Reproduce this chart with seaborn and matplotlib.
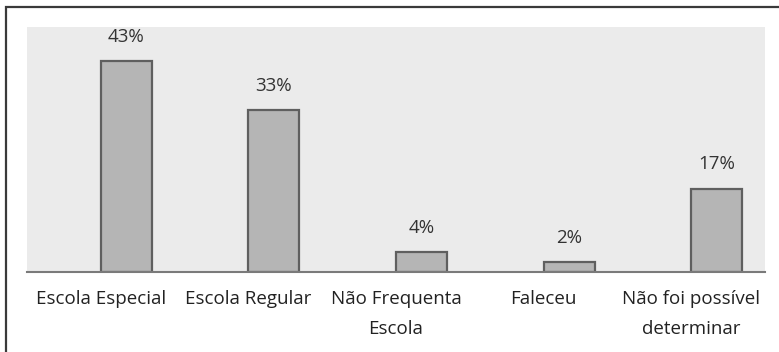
import matplotlib
matplotlib.use("Agg")
import matplotlib.pyplot as plt
import seaborn as sns
import numpy as np
import pandas as pd
from matplotlib.patches import Rectangle

categories = ["Escola Especial", "Escola Regular", "Não Frequenta\nEscola",
              "Faleceu", "Não foi possível\ndeterminar"]
values = [43, 33, 4, 2, 17]
value_labels = ["43%", "33%", "4%", "2%", "17%"]

BAR_WIDTH = 0.345
# bars sit in the right half of each category slot
positions = np.arange(len(categories)) + BAR_WIDTH / 2

df = pd.DataFrame({"pos": positions, "valor": values})

sns.set_style("white")
plt.rcParams["font.family"] = ["Open Sans", "DejaVu Sans"]

fig = plt.figure(figsize=(7.79, 3.52), dpi=100)
ax = fig.add_axes([27 / 779, 1 - 272 / 352, (765 - 27) / 779, (272 - 27) / 352])
ax.set_facecolor("#ebebeb")

sns.barplot(data=df, x="pos", y="valor", ax=ax, native_scale=True,
            color="#b5b5b5", edgecolor="#5f5f5f", linewidth=1.6,
            width=BAR_WIDTH, saturation=1)

for x, v, lab in zip(positions, values, value_labels):
    ax.text(x, v + 3.2, lab, ha="center", va="bottom", fontsize=13.5,
            color="#333333")

ax.set_ylim(0, 50)
ax.set_xlim(-0.5, len(categories) - 0.5)
ax.set_yticks([])
ax.set_xticks(np.arange(len(categories)))
ax.set_xticklabels(categories)
ax.set_xlabel("")
ax.set_ylabel("")
ax.tick_params(axis="x", length=0, pad=13, labelsize=13.5, colors="#222222")
for lab in ax.get_xticklabels():
    lab.set_linespacing(1.85)
    lab.set_va("top")

for side in ["top", "right", "left"]:
    ax.spines[side].set_visible(False)
ax.spines["bottom"].set_color("#7a7a7a")
ax.spines["bottom"].set_linewidth(1.5)

# outer frame around the chart
fig.patches.append(Rectangle((6 / 779, -0.2), 1.2, 1.2 - 7 / 352,
                             transform=fig.transFigure, fill=False,
                             edgecolor="#3a3a3a", linewidth=1.6))

fig.savefig("out.png", dpi=100, facecolor="white")
